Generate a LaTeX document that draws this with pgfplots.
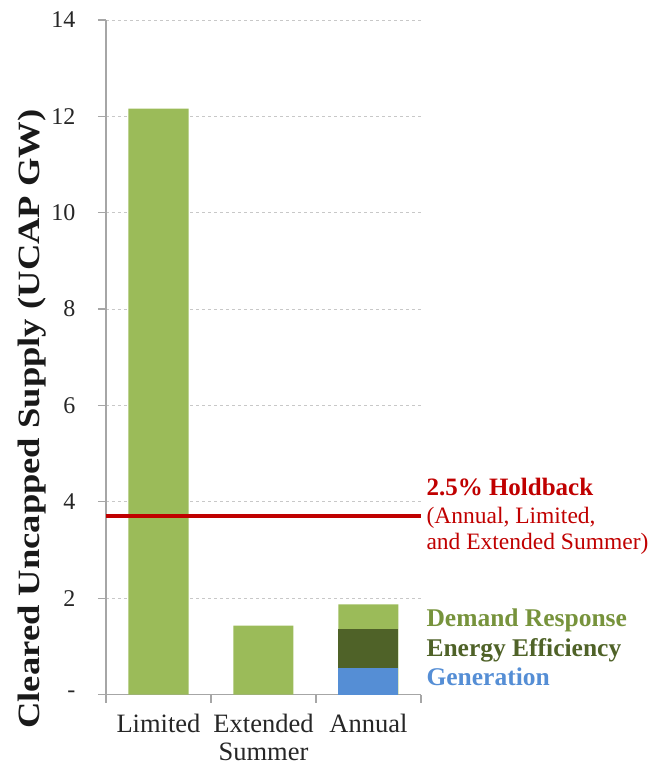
\documentclass[border=0pt]{standalone}
\usepackage{fontspec}
\setmainfont{Liberation Serif}
\usepackage{pgfplots}
\pgfplotsset{compat=1.18}
\usepackage{graphicx}

\definecolor{drgreen}{HTML}{9BBB59}
\definecolor{eegreen}{HTML}{4F6228}
\definecolor{genblue}{HTML}{558ED5}
\definecolor{drtext}{HTML}{77933C}
\definecolor{holdred}{HTML}{C00000}
\definecolor{axgray}{HTML}{A6A6A6}
\definecolor{gridgray}{HTML}{C8C8C8}

\begin{document}
\begin{tikzpicture}
\useasboundingbox (0,0) rectangle (652pt,-766pt);
\begin{axis}[
    at={(106pt,-694.5pt)}, anchor=south west,
    scale only axis, width=315pt, height=674.5pt,
    xmin=-0.5, xmax=2.5, ymin=0, ymax=14,
    ybar, bar shift=0pt, bar width=60pt,
    axis x line*=bottom, axis y line*=left,
    axis line style={-, axgray, line width=1.5pt},
    tick style={axgray, line width=1.2pt},
    tick align=outside, major tick length=8pt,
    xtick={-0.5,0.5,1.5,2.5},
    x tick label as interval,
    xticklabels={Limited,{Extended\\Summer},Annual},
    xticklabel style={align=center, text=black!85, yshift=-8pt,
        font=\fontsize{26.5}{28}\selectfont},
    ytick={0,2,...,14},
    yticklabels={-,2,4,6,8,10,12,14},
    yticklabel style={text=black!85, xshift=-19pt,
        font=\fontsize{24}{28}\selectfont},
    ymajorgrids,
    grid style={dashed, gridgray, line width=1pt},
    ylabel={\scalebox{1.18}[1]{\bfseries Cleared Uncapped Supply (UCAP GW)}},
    every axis y label/.style={at={(axis description cs:-0.235,0.4085)},
        rotate=90, anchor=center, text=black!90,
        font=\fontsize{31}{34}\selectfont},
    clip=false,
]
% totals (bars overlap, drawn back to front)
\addplot[fill=drgreen, draw=none] coordinates {(0,12.16) (1,1.43) (2,1.87)};
\addplot[fill=eegreen, draw=none] coordinates {(2,1.36)};
\addplot[fill=genblue, draw=none] coordinates {(2,0.56)};
% 2.5% holdback
\addplot[sharp plot, holdred, line width=4pt] coordinates {(-0.5,3.71) (2.5,3.71)};

\node[anchor=base west, text=holdred, font=\fontsize{25}{28}\selectfont\bfseries]
    at (axis cs:2.5,4.14) [xshift=2pt] {2.5\% Holdback};
\node[anchor=base west, text=holdred, font=\fontsize{23.5}{28}\selectfont]
    at (axis cs:2.5,3.54) [xshift=2pt] {(Annual, Limited,};
\node[anchor=base west, text=holdred, font=\fontsize{23.5}{28}\selectfont]
    at (axis cs:2.5,3.00) [xshift=2pt] {and Extended Summer)};
\node[anchor=base west, text=drtext, font=\fontsize{25.5}{28}\selectfont\bfseries]
    at (axis cs:2.5,1.41) [xshift=2pt] {Demand Response};
\node[anchor=base west, text=eegreen, font=\fontsize{25.5}{28}\selectfont\bfseries]
    at (axis cs:2.5,0.785) [xshift=2pt] {Energy Efficiency};
\node[anchor=base west, text=genblue, font=\fontsize{25.5}{28}\selectfont\bfseries]
    at (axis cs:2.5,0.197) [xshift=2pt] {Generation};
\end{axis}
\end{tikzpicture}
\end{document}
